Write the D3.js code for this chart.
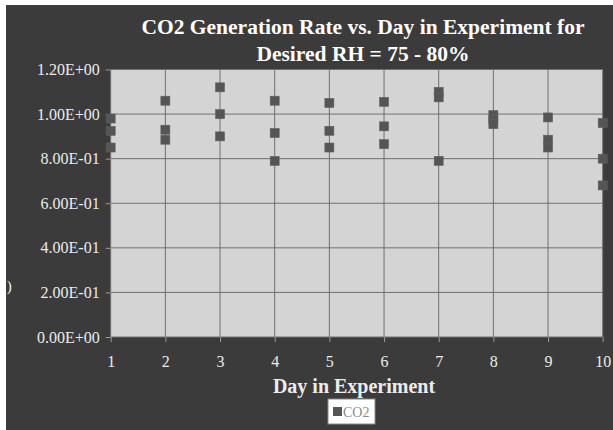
<!DOCTYPE html>
<html>
<head>
<meta charset="utf-8">
<script src="https://cdn.jsdelivr.net/npm/d3@7/dist/d3.min.js"></script>
<style>
html,body{margin:0;padding:0;background:#fff;}
svg{display:block;}
</style>
</head>
<body>
<svg id="chart" width="613" height="430"></svg>
<script>
const titleLines = ["CO2 Generation Rate vs. Day in Experiment for", "Desired RH = 75 - 80%"];
const xTitle = "Day in Experiment";
const legendLabel = "CO2";
const days = [1, 2, 3, 4, 5, 6, 7, 8, 9, 10];
const run1 = [0.98, 1.06, 1.12, 1.06, 1.05, 1.055, 1.10, 0.995, 0.985, 0.96];
const run2 = [0.925, 0.93, 1.00, 0.915, 0.925, 0.945, 1.075, 0.975, 0.885, 0.80];
const run3 = [0.85, 0.885, 0.90, 0.79, 0.85, 0.865, 0.79, 0.955, 0.85, 0.68];
const yTicks = [0, 0.2, 0.4, 0.6, 0.8, 1.0, 1.2];
const yTickLabels = ["0.00E+00", "2.00E-01", "4.00E-01", "6.00E-01", "8.00E-01", "1.00E+00", "1.20E+00"];

const svg = d3.select("#chart");
const W = 613, H = 430;
const m = {left: 110.7, right: 602.7, top: 69.5, bottom: 337};
const serif = "'Liberation Serif', 'Times New Roman', serif";

svg.append("rect").attr("width", W).attr("height", H).attr("fill", "#ffffff");
svg.append("rect").attr("x", 6).attr("y", 5).attr("width", W - 6).attr("height", H - 5).attr("fill", "#3b3b3b");

const x = d3.scaleLinear().domain([1, 10]).range([m.left, m.right]);
const y = d3.scaleLinear().domain([0, 1.2]).range([m.bottom, m.top]);

// plot area
svg.append("rect").attr("x", m.left).attr("y", m.top)
  .attr("width", m.right - m.left).attr("height", m.bottom - m.top)
  .attr("fill", "#d4d4d4");

// grid
const grid = svg.append("g");
grid.selectAll("line.h").data(yTicks).enter().append("line")
  .attr("x1", m.left).attr("x2", m.right)
  .attr("y1", d => y(d)).attr("y2", d => y(d))
  .attr("stroke", "#707070").attr("stroke-width", 1);
grid.selectAll("line.v").data(days).enter().append("line")
  .attr("y1", m.top).attr("y2", m.bottom)
  .attr("x1", d => x(d)).attr("x2", d => x(d))
  .attr("stroke", "#707070").attr("stroke-width", 1);

// axes
const yAxis = d3.axisLeft(y).tickValues(yTicks)
  .tickFormat((d, i) => yTickLabels[i]).tickSize(5).tickPadding(6);
const gy = svg.append("g").attr("transform", `translate(${m.left},0)`).call(yAxis);
gy.select(".domain").remove();
gy.selectAll(".tick line").attr("stroke", "#9a9a9a");
gy.selectAll(".tick text").attr("fill", "#ececec")
  .style("font-family", serif).style("font-size", "16px");

const xAxis = d3.axisBottom(x).tickValues(days).tickFormat(d3.format("d")).tickSize(5).tickPadding(14);
const gx = svg.append("g").attr("transform", `translate(0,${m.bottom})`).call(xAxis);
gx.select(".domain").remove();
gx.selectAll(".tick line").attr("stroke", "#9a9a9a");
gx.selectAll(".tick text").attr("fill", "#ececec")
  .style("font-family", serif).style("font-size", "16px");

// points
const pts = [];
[run1, run2, run3].forEach(r => r.forEach((v, i) => pts.push({d: days[i], v: v})));
const ms = 9;
svg.append("g").selectAll("rect").data(pts).enter().append("rect")
  .attr("x", p => x(p.d) - ms / 2).attr("y", p => y(p.v) - ms / 2)
  .attr("width", ms).attr("height", ms)
  .attr("fill", "#555555").attr("stroke", "#606060").attr("stroke-width", 0.6);

// title
const t = svg.append("text").attr("x", 363).attr("y", 34)
  .attr("text-anchor", "middle").attr("fill", "#ffffff")
  .style("font-family", serif)
  .style("font-size", "21.5px").style("font-weight", "bold");
titleLines.forEach((l, i) => t.append("tspan").attr("x", 363).attr("dy", i ? 27 : 0).text(l));

// x title
svg.append("text").attr("x", 354).attr("y", 393).attr("text-anchor", "middle")
  .attr("fill", "#ececec")
  .style("font-family", serif)
  .style("font-size", "20px").style("font-weight", "bold").text(xTitle);

// stray mark on left (cropped axis title remnant)
svg.append("text").attr("x", 7).attr("y", 291).attr("fill", "#ffffff")
  .style("font-family", serif).style("font-size", "14px").text(")");

// legend
const lg = svg.append("g").attr("transform", "translate(328,399)");
lg.append("rect").attr("width", 47).attr("height", 25).attr("fill", "#ffffff").attr("stroke", "#8a8a8a").attr("stroke-width", 1);
lg.append("rect").attr("x", 5).attr("y", 8).attr("width", 9).attr("height", 9).attr("fill", "#555555");
lg.append("text").attr("x", 15).attr("y", 17.5).attr("fill", "#8a8a8a")
  .style("font-family", serif).style("font-size", "14px").text(legendLabel);
</script>
</body>
</html>
